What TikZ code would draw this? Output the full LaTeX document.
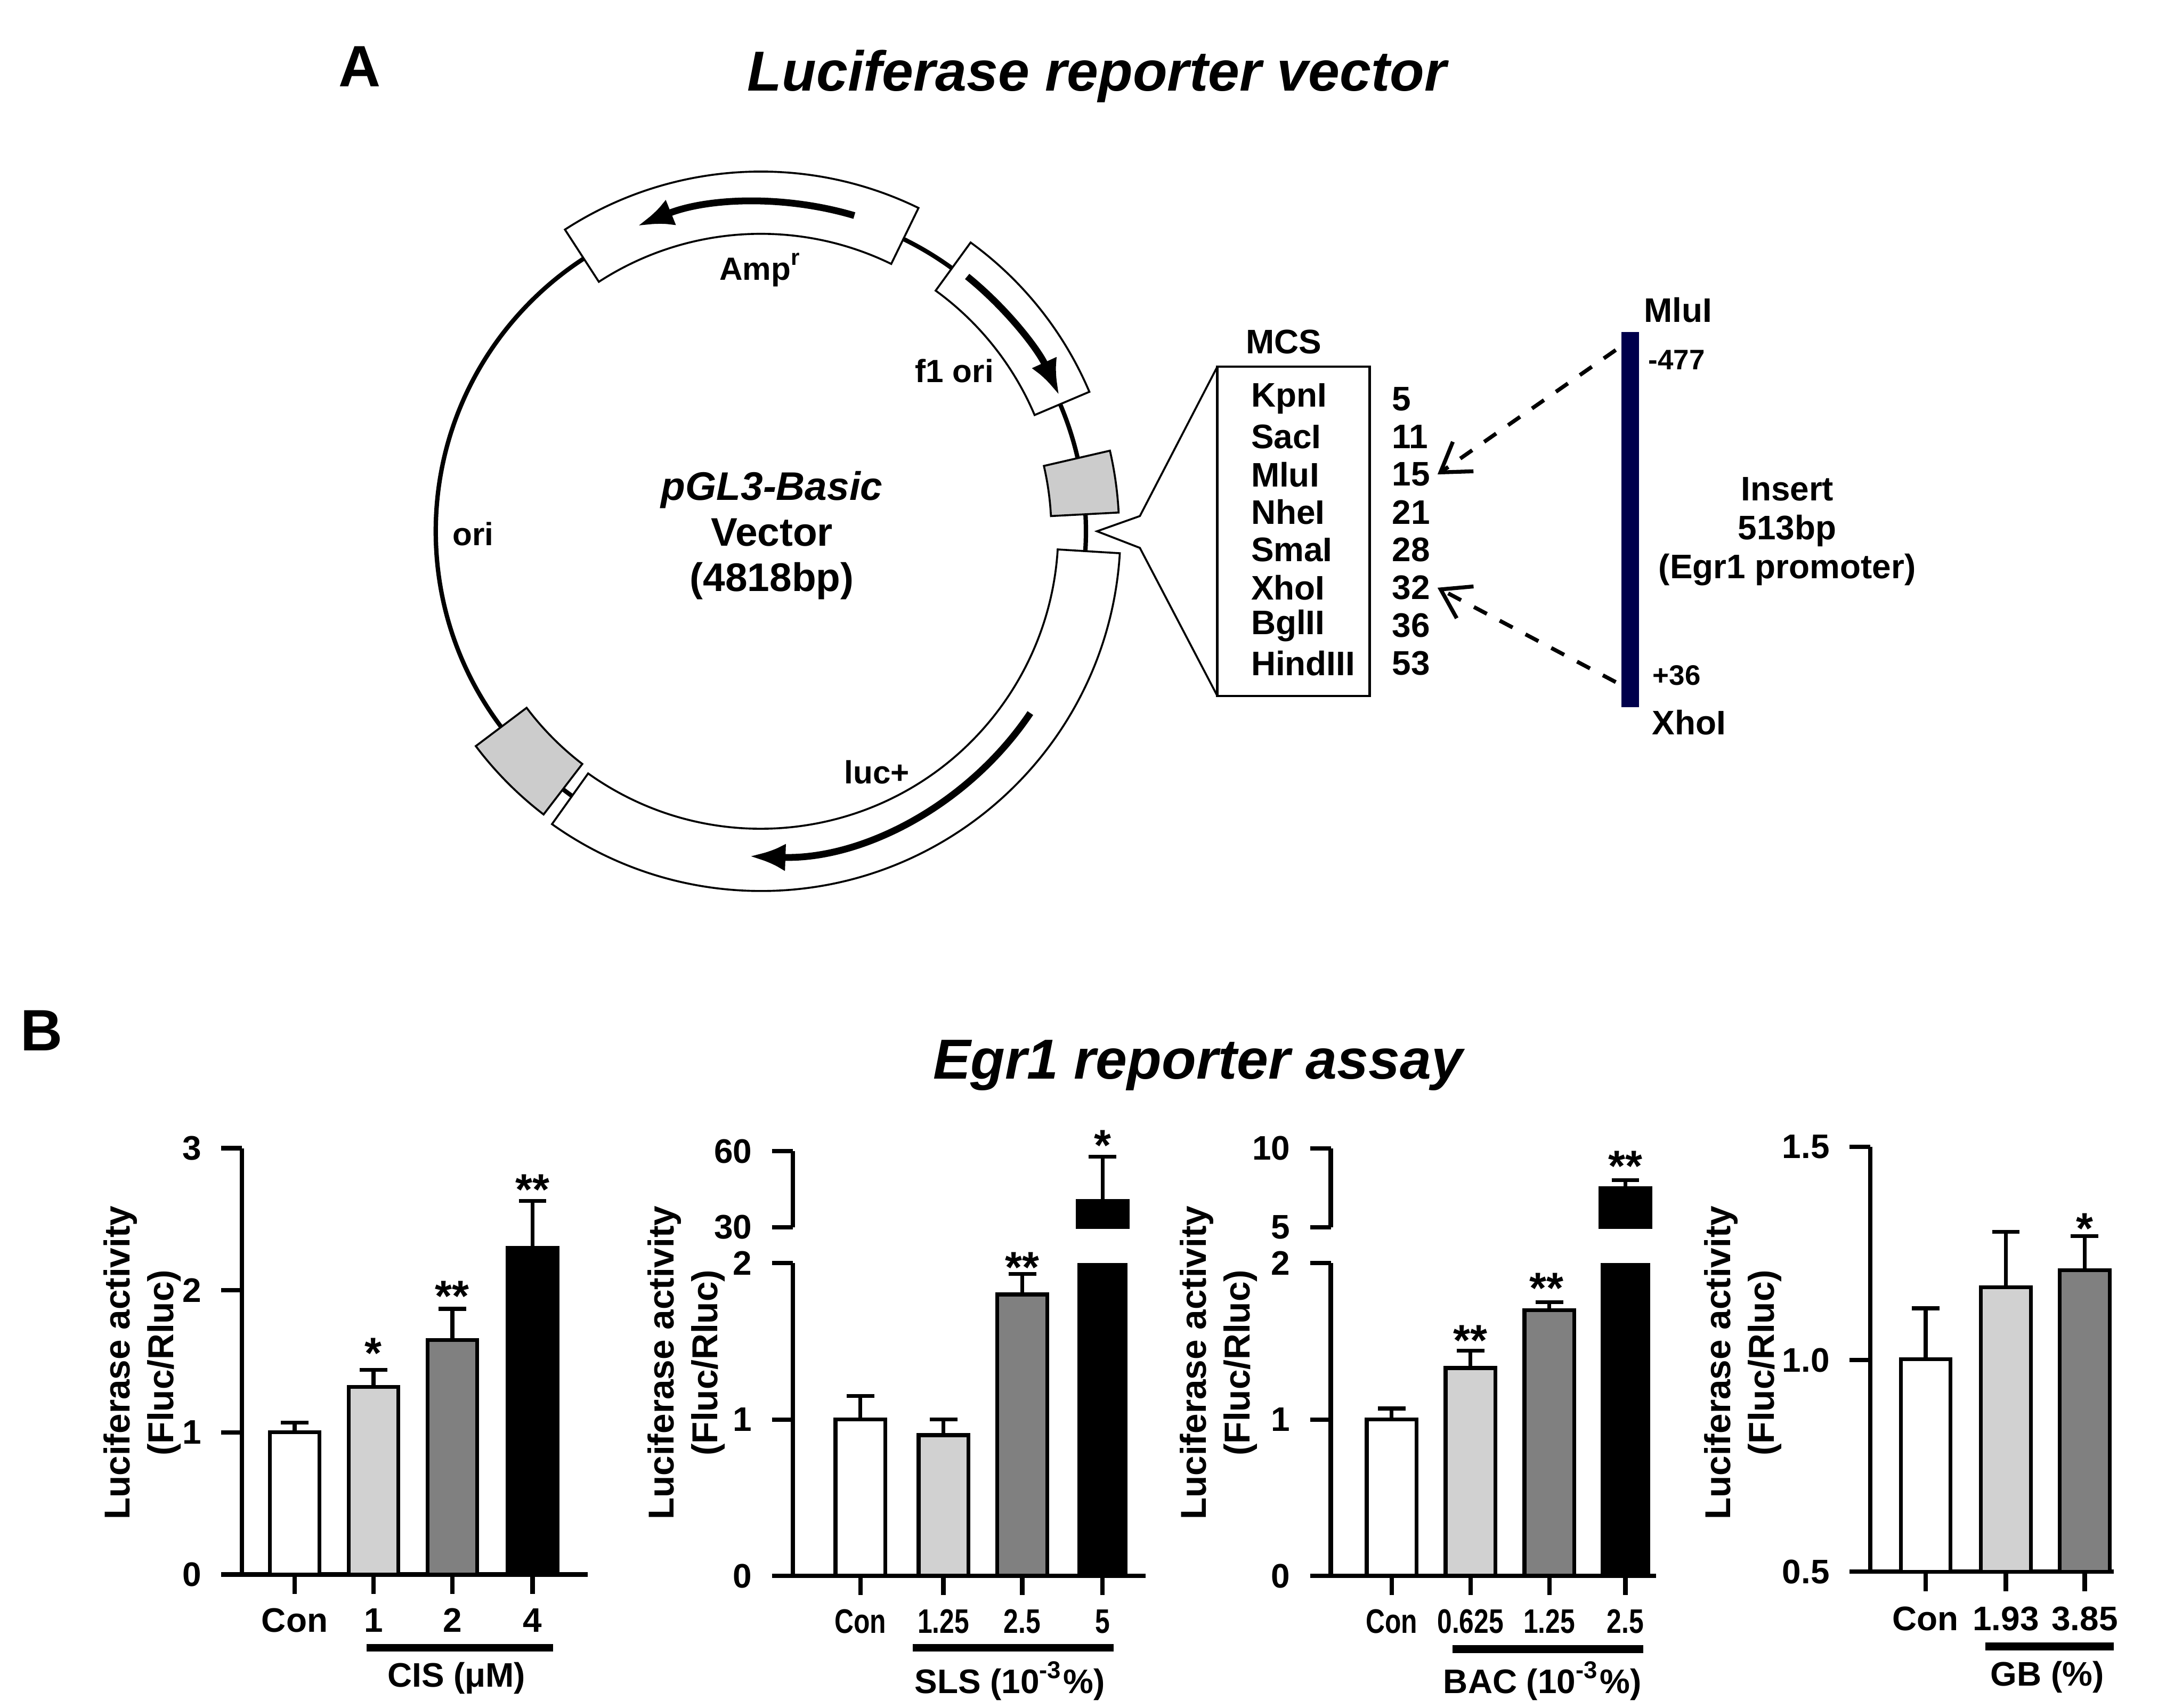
\documentclass[tikz,border=0pt]{standalone}
\usepackage{fontspec}
\setmainfont{Liberation Sans}
\usetikzlibrary{positioning, arrows.meta}

% bar with error bar: centre x, top y, error y, fill, base y
\newcommand{\drawbar}[5]{%
	\draw[bar, fill=#4] ({#1-18},{#5}) rectangle ({#1+18},{#2});
	\draw[bar] ({#1},{#2}) -- ({#1},{#3}) ({#1-10},{#3}) -- ({#1+10},{#3});
}

\begin{document}
\begin{tikzpicture}[
		x=0.1mm, y=-0.1mm,
		lab/.style={font=\fontsize{6.6}{8}\selectfont\bfseries},
		mcsf/.style={font=\fontsize{7}{8}\selectfont\bfseries},
		tick/.style={font=\fontsize{7}{8}\selectfont\bfseries, anchor=east},
		cat/.style={font=\fontsize{7}{8}\selectfont\bfseries},
		narrow/.style={cat, xscale=0.78},
		star/.style={font=\fontsize{9}{10}\selectfont\bfseries},
		ylab/.style={font=\fontsize{7.4}{9}\selectfont\bfseries, rotate=90, align=center},
		axis/.style={line width=0.9pt},
		bar/.style={line width=0.8pt},
		seg/.style={draw, line width=0.4pt, fill=#1},
		dna/.style={line width=1.4pt, -{Latex[length=2.6mm, width=2mm]}}
		]
		\useasboundingbox (0,0) rectangle (1560,1234.5);
		
		% Panel A
		\node[font=\fontsize{12}{14}\selectfont\bfseries] (labA) at (260,48) {A};
		\node[font=\fontsize{11.6}{13}\selectfont\bfseries\itshape] (titleA) at (793,55) {Luciferase reporter vector};
		
		% plasmid map
		\begin{scope}[shift={(550,384)}, x=0.1mm, y=0.1mm]
			\draw[line width=0.9pt] (0,0) circle[radius=235];
			% Amp
			\draw[seg=white] (64:215) arc[start angle=64, end angle=123, radius=215] -- (123:260) arc[start angle=123, end angle=64, radius=260] -- cycle;
			\draw[dna] (73.5:238) arc[start angle=73.5, end angle=112, radius=238];
			% f1 ori
			\draw[seg=white] (23:215) arc[start angle=23, end angle=54, radius=215] -- (54:258) arc[start angle=54, end angle=23, radius=258] -- cycle;
			\draw[dna] (51:237) arc[start angle=51, end angle=24.5, radius=237];
			% luc+
			\draw[seg=white] (-125.5:215) arc[start angle=-125.5, end angle=-3.5, radius=215] -- (-3.5:260) arc[start angle=-3.5, end angle=-125.5, radius=260] -- cycle;
			\draw[dna] (-34:235) arc[start angle=-34, end angle=-92, radius=235];
			% grey elements
			\draw[seg=black!20] (3:210) arc[start angle=3, end angle=13, radius=210] -- (13:259) arc[start angle=13, end angle=3, radius=259] -- cycle;
			\draw[seg=black!20] (217:212) arc[start angle=217, end angle=232.5, radius=212] -- (232.5:258) arc[start angle=232.5, end angle=217, radius=258] -- cycle;
			\coordinate (tip) at (0:243);
		\end{scope}
		\node[lab] (amp) at (550,195) {Amp\textsuperscript{r}};
		\node[lab] (fone) at (690,268) {f1 ori};
		\node[lab] (ori) at (342,386) {ori};
		\node[lab] (luc) at (634,558) {luc+};
		\node[font=\fontsize{8.2}{9.4}\selectfont\bfseries, align=center] (vec) at (558,387) {\itshape pGL3-Basic\\Vector\\(4818bp)};
		
		% MCS box
		\node[mcsf] (mcslab) at (928,247) {MCS};
		\draw[line width=0.5pt] (880,265) rectangle (990,503);
		\coordinate (boxtl) at (880,265);
		\coordinate (boxbl) at (880,503);
		\coordinate (bendt) at (824,373);
		\coordinate (bendb) at (824,396);
		\draw[line width=0.4pt] (boxtl) -- (bendt) -- (tip) -- (bendb) -- (boxbl);
		\foreach \site/\pos [count=\i] in {KpnI/5, SacI/11, MluI/15, NheI/21, SmaI/28, XhoI/32, BglII/36, HindIII/53} {
			\node[mcsf, anchor=west] (site\i) at (892,{261+27.3*\i}) {\site};
			\node[mcsf, anchor=west] (pos\i) at (994,{261+27.3*\i}) {\pos};
		}
		
		% insert
		\fill[blue!30!black] (1172,240) rectangle (1185,511);
		\coordinate (intop) at (1168,253);
		\coordinate (inbot) at (1168,493);
		\node[mcsf] (mlu) at (1213,224) {MluI};
		\node[font=\fontsize{5.8}{6}\selectfont\bfseries] (m477) at (1212,260) {-477};
		\node[font=\fontsize{5.8}{6}\selectfont\bfseries] (p36) at (1212,488) {+36};
		\node[mcsf] (xho) at (1221,522) {XhoI};
		\node[mcsf, align=center] (insert) at (1292,384) {Insert\\513bp\\(Egr1 promoter)};
		\draw[line width=0.8pt, dashed, -{Straight Barb[length=2mm, width=2.6mm]}] (intop) -- ([xshift=-2pt]pos3.east);
		\draw[line width=0.8pt, dashed, -{Straight Barb[length=2mm, width=2.6mm]}] (inbot) -- ([xshift=-2pt]pos6.east);
		
		% Panel B
		\node[font=\fontsize{12}{14}\selectfont\bfseries] (labB) at (30,745) {B};
		\node[font=\fontsize{11.6}{13}\selectfont\bfseries\itshape] (titleB) at (866,770) {Egr1 reporter assay};
		
		% chart 1: CIS
		\draw[axis] (175,830) -- (175,1138) (160,1138) -- (425,1138);
		\foreach \v in {0,1,2,3} {
			\draw[axis] (160,{1138-102.7*\v}) -- (175,{1138-102.7*\v});
			\node[tick] (c1t\v) at (158,{1138-102.7*\v}) {\v};
		}
		\drawbar{213}{1138-102.7*1.0}{1138-102.7*1.07}{white}{1138}
		\drawbar{270}{1138-102.7*1.32}{1138-102.7*1.44}{black!18}{1138}
		\drawbar{327}{1138-102.7*1.65}{1138-102.7*1.87}{black!50}{1138}
		\drawbar{385}{1138-102.7*2.3}{1138-102.7*2.63}{black}{1138}
		\foreach \x/\t in {213/Con, 270/1, 327/2, 385/4} {
			\draw[axis] (\x,1138) -- (\x,1152);
			\node[cat] at (\x,1171) {\t};
		}
		\draw[line width=1.6pt] (265,1191) -- (400,1191);
		\node[cat] (cis) at (330,1213) {CIS (μM)};
		\node[star] at (270,978) {*};
		\node[star] at (327,937) {**};
		\node[star] at (385,860) {**};
		\node[ylab] (y1) at (103,985) {Luciferase activity\\(Fluc/Rluc)};
		
		% chart 2: SLS
		\draw[axis] (573,832) -- (573,887) (573,913) -- (573,1139) (558,1139) -- (828,1139);
		\foreach \yy/\t in {832/60, 887/30, 913/2, 1026/1, 1139/0} {
			\draw[axis] (558,\yy) -- (573,\yy);
			\node[tick] at (556,\yy) {\t};
		}
		\drawbar{622}{1139-113*1.0}{1139-113*1.15}{white}{1139}
		\drawbar{682}{1139-113*0.9}{1139-113*1.0}{black!18}{1139}
		\drawbar{739}{1139-113*1.8}{1139-113*1.93}{black!50}{1139}
		\fill (779,913) rectangle (815,1139);
		\drawbar{797}{868}{836}{black}{887}
		\foreach \x/\t in {622/Con, 682/1.25, 739/2.5, 797/5} {
			\draw[axis] (\x,1139) -- (\x,1153);
			\node[narrow] at (\x,1172) {\t};
		}
		\draw[line width=1.6pt] (660,1191) -- (805,1191);
		\node[cat] (sls) at (730,1215) {SLS (10\textsuperscript{-3}\%)};
		\node[star] at (739,916) {**};
		\node[star] at (797,828) {*};
		\node[ylab] (y2) at (496,985) {Luciferase activity\\(Fluc/Rluc)};
		
		% chart 3: BAC
		\draw[axis] (962,830) -- (962,887) (962,913) -- (962,1139) (947,1139) -- (1197,1139);
		\foreach \yy/\t in {830/10, 887/5, 913/2, 1026/1, 1139/0} {
			\draw[axis] (947,\yy) -- (962,\yy);
			\node[tick] at (945,\yy) {\t};
		}
		\drawbar{1006}{1139-113*1.0}{1139-113*1.07}{white}{1139}
		\drawbar{1063}{1139-113*1.33}{1139-113*1.44}{black!18}{1139}
		\drawbar{1120}{1139-113*1.7}{1139-113*1.75}{black!50}{1139}
		\fill (1157,913) rectangle (1193,1139);
		\drawbar{1175}{859}{853}{black}{887}
		\foreach \x/\t in {1006/Con, 1063/0.625, 1120/1.25, 1175/2.5} {
			\draw[axis] (\x,1139) -- (\x,1153);
			\node[narrow] at (\x,1172) {\t};
		}
		\draw[line width=1.6pt] (1050,1192) -- (1188,1192);
		\node[cat] (bac) at (1115,1215) {BAC (10\textsuperscript{-3}\%)};
		\node[star] at (1063,969) {**};
		\node[star] at (1118,931) {**};
		\node[star] at (1175,843) {**};
		\node[ylab] (y3) at (881,985) {Luciferase activity\\(Fluc/Rluc)};
		
		% chart 4: GB
		\draw[axis] (1352,829) -- (1352,1136) (1337,1136) -- (1528,1136);
		\foreach \yy/\t in {829/1.5, 983/1.0, 1136/0.5} {
			\draw[axis] (1337,\yy) -- (1352,\yy);
			\node[tick] at (1335,\yy) {\t};
		}
		\drawbar{1392}{1136-307*0.5}{1136-307*0.62}{white}{1136}
		\drawbar{1450}{1136-307*0.67}{1136-307*0.80}{black!18}{1136}
		\drawbar{1507}{1136-307*0.71}{1136-307*0.79}{black!50}{1136}
		\foreach \x/\t in {1392/Con, 1450/1.93, 1507/3.85} {
			\draw[axis] (\x,1136) -- (\x,1150);
			\node[cat] at (\x,1170) {\t};
		}
		\draw[line width=1.6pt] (1435,1190) -- (1528,1190);
		\node[cat] (gb) at (1480,1212) {GB (\%)};
		\node[star] at (1507,888) {*};
		\node[ylab] (y4) at (1260,985) {Luciferase activity\\(Fluc/Rluc)};
	\end{tikzpicture}
\end{document}
